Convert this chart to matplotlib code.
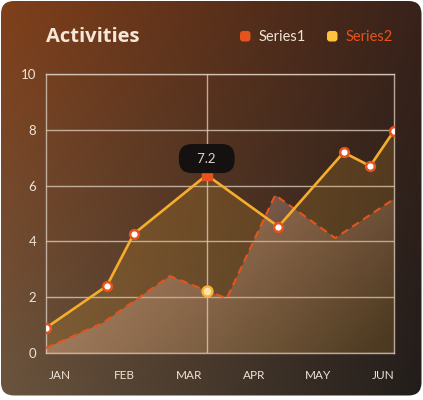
import matplotlib
matplotlib.use('Agg')
import matplotlib.pyplot as plt
import numpy as np
from matplotlib.patches import FancyBboxPatch
from matplotlib.colors import to_rgb

# chart data (x in months, JAN = 0)
months = ['JAN', 'FEB', 'MAR', 'APR', 'MAY', 'JUN']
month_pos = [0, 1, 2, 3, 4, 5]
s1_x = [-0.22, 0.66, 1.70, 2.27, 2.58, 3.33, 4.26, 5.17]
s1_y = [0.18, 1.08, 2.76, 2.23, 1.96, 5.66, 4.12, 5.52]
s2_x = [-0.22, 0.72, 1.14, 2.27, 3.38, 4.39, 4.80, 5.17]
s2_y = [0.90, 2.40, 4.27, 6.38, 4.53, 7.19, 6.70, 7.96]
y_ticks = [0, 2, 4, 6, 8, 10]
hover = 3
tooltip = '7.2'

W, H = 423, 400
ORANGE = '#e6531d'
YELLOW = '#f7ad2c'
TXT = '#efe3d6'

plt.rcParams['font.family'] = ['Lato', 'DejaVu Sans']
fig = plt.figure(figsize=(W / 100, H / 100), dpi=100, facecolor='white')

# card background with gradient
bg = fig.add_axes([0, 0, 1, 1])
bg.set_xlim(0, W)
bg.set_ylim(H, 0)
bg.axis('off')
xx, yy = np.meshgrid(np.linspace(0, 1, W), np.linspace(0, 1, H))
tl, tr = np.array(to_rgb('#803f1a')), np.array(to_rgb('#38221a'))
bl, br = np.array(to_rgb('#6a553f')), np.array(to_rgb('#211d1b'))
u, v = xx[..., None], yy[..., None]
grad = (tl * (1 - u) * (1 - v) + tr * u * (1 - v) + bl * (1 - u) * v + br * u * v)
img = bg.imshow(grad, extent=[0, W, H, 0], aspect='auto', zorder=0)
card = FancyBboxPatch((1, 1), W - 2.5, H - 5.5, boxstyle='round,pad=0,rounding_size=13',
                      transform=bg.transData, facecolor='none', edgecolor='none')
bg.add_patch(card)
img.set_clip_path(card)

# title and legend
bg.text(46, 37.5, 'Activities', color='#f6e7d9', fontsize=14.5, fontweight='bold',
        va='center', family=['Open Sans', 'DejaVu Sans'])
bg.add_patch(FancyBboxPatch((240, 31), 10.5, 10.5, boxstyle='round,pad=0,rounding_size=3',
                            facecolor=ORANGE, edgecolor='none'))
bg.text(259, 37, 'Series1', color=TXT, fontsize=10.5, va='center')
bg.add_patch(FancyBboxPatch((327, 31), 10.5, 10.5, boxstyle='round,pad=0,rounding_size=3',
                            facecolor='#ffc23c', edgecolor='none'))
bg.text(346, 37, 'Series2', color=ORANGE, fontsize=10.5, va='center')

# main plot
ax = fig.add_axes([46 / W, 47 / H, 348 / W, 279 / H])
ax.patch.set_alpha(0)
x0, x1 = -0.22, 5.17

ax.fill_between(s2_x, s2_y, 0, color='#f5b335', alpha=0.17, lw=0, zorder=1)

# series1 area with gradient fill
poly = ax.fill_between(s1_x, s1_y, 0, facecolor='none', edgecolor='none')
gx, gy = np.meshgrid(np.linspace(0, 1, 200), np.linspace(0, 1, 200))
alpha = np.clip(0.42 + 0.45 * gy - 0.45 * gx, 0, 0.8)
rgba = np.zeros((200, 200, 4))
rgba[..., :3] = to_rgb('#cea08e')
rgba[..., 3] = alpha
im = ax.imshow(rgba, extent=[x0, x1, 0, 10], origin='lower', aspect='auto', zorder=2)
im.set_clip_path(poly.get_paths()[0], ax.transData)

ax.plot(s1_x, s1_y, color=ORANGE, lw=1.5, dashes=(3.8, 2.4), zorder=4)
ax.plot(s2_x, s2_y, color=YELLOW, lw=1.9, zorder=5, solid_joinstyle='round')
mx = [x for i, x in enumerate(s2_x) if i != hover]
my = [y for i, y in enumerate(s2_y) if i != hover]
ax.plot(mx, my, 'o', ms=6.3, mfc='white', mec=ORANGE, mew=1.8, zorder=6)
ax.plot(s2_x[hover], s2_y[hover], 's', ms=7, color=ORANGE, zorder=7)
ax.plot(s1_x[hover], s1_y[hover], 'o', ms=7.2, mfc='#ffe4a8', mec='#f7b23a', mew=1.7, zorder=7)

# crosshair and tooltip
ax.axvline(s2_x[hover], color='#d9cabb', lw=1, alpha=0.8, zorder=3)
ax.annotate('   ' + tooltip + '   ', xy=(s2_x[hover], s2_y[hover]), xytext=(0, 7.5),
            textcoords='offset points', ha='center', va='bottom', fontsize=9.5, color='#ddd4cb',
            bbox=dict(boxstyle='round,pad=0.65,rounding_size=1.0', fc='#141110', ec='none'),
            zorder=8)

ax.set_xlim(x0, x1)
ax.set_ylim(0, 10)
ax.set_yticks(y_ticks)
ax.set_xticks(month_pos)
ax.set_xticklabels(months)
ax.grid(axis='y', color='#d9cabb', lw=1, alpha=0.8)
ax.set_axisbelow(True)
for s in ax.spines.values():
    s.set_color('#d9cabb')
    s.set_alpha(0.8)
    s.set_linewidth(1)
ax.tick_params(length=0, colors=TXT, labelsize=9.5)
ax.tick_params(axis='y', pad=7)
ax.tick_params(axis='x', pad=12, labelsize=8.5)

fig.savefig('out.png', dpi=100, facecolor='white')
